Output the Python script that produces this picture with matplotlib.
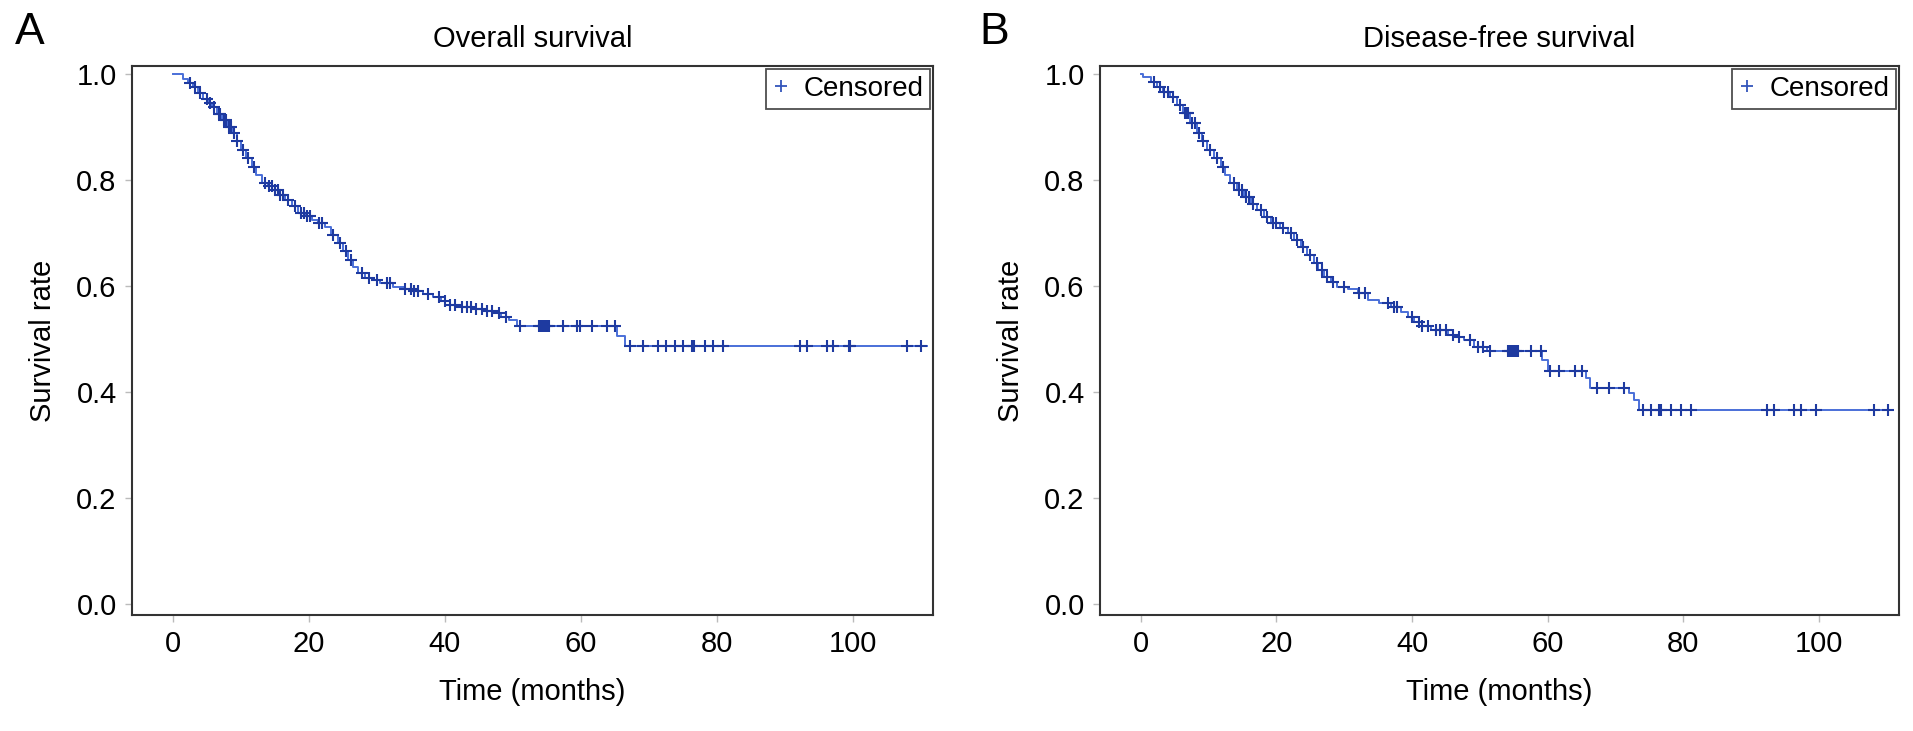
import numpy as np
import matplotlib.pyplot as plt

plt.rcParams['font.family'] = ['Liberation Sans', 'DejaVu Sans']

# Overall survival: step vertices (months, survival)
os_t = [0, 1.5, 2.2, 3.0, 3.7, 4.5, 5.2, 5.7, 6.5, 7.2, 8.0, 8.7, 9.4, 10.1, 10.8,
        11.6, 12.3, 13.1, 14.0, 15.0, 15.8, 16.5, 17.5, 18.4, 19.4, 20.4, 21.4, 22.4,
        23.3, 24.3, 25.0, 25.7, 26.5, 27.2, 28.3, 29.3, 30.5, 32.4, 34.0, 35.3, 36.8,
        38.2, 39.5, 40.7, 42.0, 44.0, 46.0, 47.6, 48.3, 49.5, 50.6, 65.3, 66.5]
os_s = [1.0, 0.99, 0.983, 0.975, 0.964, 0.953, 0.945, 0.938, 0.925, 0.913, 0.900,
        0.889, 0.873, 0.857, 0.842, 0.825, 0.810, 0.794, 0.788, 0.781, 0.772, 0.762,
        0.750, 0.738, 0.732, 0.725, 0.718, 0.711, 0.696, 0.681, 0.665, 0.649, 0.636,
        0.625, 0.615, 0.611, 0.605, 0.598, 0.594, 0.590, 0.585, 0.579, 0.572, 0.564,
        0.560, 0.556, 0.552, 0.549, 0.542, 0.535, 0.525, 0.505, 0.487]
os_end = 110.9
os_cens = [2.5, 3.2, 4.0, 5.0, 5.5, 6.0, 6.8, 7.0, 7.5, 7.8, 8.2, 8.6, 9.0, 9.5, 10.3,
           11.0, 12.0, 13.5, 14.2, 14.6, 15.0, 15.4, 15.8, 16.2, 17.0, 18.0, 18.8, 19.3,
           19.8, 20.2, 21.5, 22.0, 23.5, 24.6, 25.5, 26.2, 27.8, 28.8, 30.0, 31.5, 32.0,
           34.2, 35.0, 35.5, 36.0, 37.5, 39.2, 40.0, 40.8, 41.5, 42.5, 43.2, 43.8, 44.6,
           45.5, 46.2, 47.0, 48.0, 49.0, 51.0, 53.8, 54.1, 54.4, 54.7, 55.0, 55.3, 57.4,
           59.4, 59.9, 61.6, 63.8, 65.0, 67.2, 69.1, 71.3, 72.6, 73.8, 75.0, 76.3, 76.6,
           78.2, 79.4, 80.9, 92.2, 93.2, 96.2, 97.1, 99.4, 99.6, 108.0, 110.1]

# Disease-free survival
dfs_t = [0, 0.4, 1.5, 2.4, 3.3, 4.3, 5.3, 6.3, 7.3, 8.3, 9.0, 9.8, 10.8, 11.8, 12.5,
         13.2, 14.2, 15.2, 16.2, 17.2, 18.2, 19.2, 20.5, 21.7, 22.6, 23.6, 24.5, 25.5,
         26.2, 27.0, 28.0, 29.0, 30.5, 32.0, 33.5, 35.2, 36.9, 38.4, 39.4, 40.3, 41.5,
         42.8, 45.3, 46.5, 47.7, 49.1, 51.1, 59.2, 60.0, 65.6, 66.3, 72.0, 72.7, 73.5]
dfs_s = [1.0, 0.995, 0.985, 0.975, 0.966, 0.957, 0.942, 0.926, 0.908, 0.889, 0.873,
         0.857, 0.841, 0.825, 0.810, 0.794, 0.781, 0.768, 0.755, 0.743, 0.731, 0.719,
         0.709, 0.700, 0.687, 0.674, 0.658, 0.643, 0.630, 0.617, 0.607, 0.598, 0.594,
         0.587, 0.574, 0.568, 0.561, 0.551, 0.541, 0.532, 0.524, 0.517, 0.508, 0.503,
         0.498, 0.485, 0.478, 0.460, 0.440, 0.426, 0.407, 0.398, 0.385, 0.366]
dfs_end = 110.6
dfs_cens = [2.0, 2.8, 3.5, 4.0, 4.8, 5.8, 6.5, 6.8, 7.0, 7.6, 8.0, 8.6, 9.2, 10.2, 11.2,
            12.2, 13.8, 14.5, 14.9, 15.5, 16.0, 16.6, 17.8, 18.6, 19.5, 20.0, 21.0, 22.2,
            23.0, 24.0, 25.0, 26.0, 26.8, 27.5, 28.3, 30.0, 32.2, 33.0, 36.5, 37.3, 37.8,
            40.0, 41.0, 41.5, 42.3, 43.5, 44.2, 45.0, 46.0, 47.0, 48.5, 49.8, 50.5, 51.5,
            54.1, 54.4, 54.7, 55.0, 55.3, 55.6, 57.5, 59.0, 60.3, 61.7, 64.0, 65.0, 67.3,
            69.0, 71.3, 74.0, 75.2, 76.4, 76.7, 78.2, 79.6, 81.1, 92.4, 93.4, 96.3, 97.3,
            99.5, 108.1, 110.1]

titles = ["Overall survival", "Disease-free survival"]
letters = ["A", "B"]

line_col = "#4a6fd8"
mark_col = "#1e3aa0"

fig = plt.figure(figsize=(19.13, 7.31), dpi=100)
ax1 = fig.add_axes([0.069, 0.1587, 0.4187, 0.751])
ax2 = fig.add_axes([0.575, 0.1587, 0.4177, 0.751])

data = [(os_t, os_s, os_end, os_cens), (dfs_t, dfs_s, dfs_end, dfs_cens)]

for ax, (t, s, t_end, cens), title, letter in zip([ax1, ax2], data, titles, letters):
    t = np.array(t)
    s = np.array(s)
    # step curve, extended flat to last follow-up
    ax.step(np.append(t, t_end), np.append(s, s[-1]), where="post", color=line_col, lw=1.4)
    c = np.array(cens)
    cs = s[np.searchsorted(t, c, side="right") - 1]
    ax.plot(c, cs, linestyle="none", marker="+", ms=8, mew=1.5, color=mark_col,
            label="Censored")
    ax.set_xlim(-6, 111.8)
    ax.set_ylim(-0.021, 1.015)
    ax.set_xticks([0, 20, 40, 60, 80, 100])
    ax.set_yticks([0.0, 0.2, 0.4, 0.6, 0.8, 1.0])
    ax.set_yticklabels(["0.0", "0.2", "0.4", "0.6", "0.8", "1.0"])
    ax.tick_params(labelsize=21, length=5, width=1, color="#bbbbbb", pad=6)
    for sp in ax.spines.values():
        sp.set_color("#333333")
        sp.set_linewidth(1.5)
    ax.set_xlabel("Time (months)", fontsize=21, labelpad=14)
    ax.set_ylabel("Survival rate", fontsize=21, labelpad=14)
    ax.set_title(title, fontsize=21, pad=14)
    leg = ax.legend(loc="upper right", fontsize=20, frameon=True, fancybox=False,
                    borderaxespad=0.1, handlelength=0.6, handletextpad=0.5,
                    borderpad=0.25, markerscale=1.0)
    leg.get_frame().set_edgecolor("#222222")
    leg.get_frame().set_linewidth(1.3)
    for h in leg.legend_handles:
        h.set_color("#3355bb")
        h.set_markeredgewidth(1.3)

fig.text(0.008, 0.955, "A", fontsize=32, va="center", ha="left")
fig.text(0.512, 0.955, "B", fontsize=32, va="center", ha="left")

fig.savefig("out.png", dpi=100)
